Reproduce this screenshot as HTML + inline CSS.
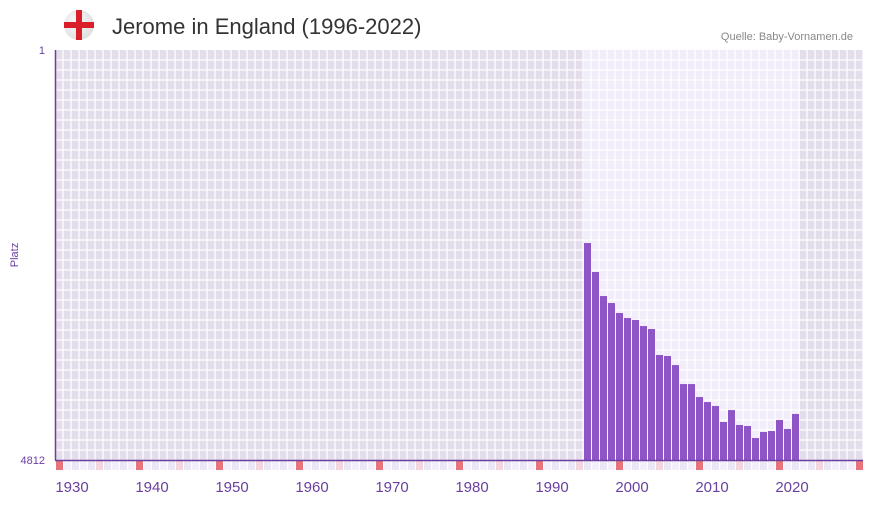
<!DOCTYPE html>
<html><head><meta charset="utf-8"><style>
body{margin:0;background:#fff;width:873px;height:502px;overflow:hidden;font-family:"Liberation Sans",sans-serif}
</style></head><body>
<svg id="c" width="873" height="502" xmlns="http://www.w3.org/2000/svg">
<defs><radialGradient id="fg" cx="0.4" cy="0.4" r="0.7"><stop offset="0" stop-color="#fafafa"/><stop offset="1" stop-color="#dcdcdc"/></radialGradient></defs>
<g>
<circle cx="79" cy="25" r="15" fill="url(#fg)"/>
<rect x="76" y="10" width="6" height="30" fill="#d9202a"/>
<rect x="64" y="22" width="30" height="6" fill="#d9202a"/>
</g>
<text x="112" y="34" font-size="22" fill="#333">Jerome in England (1996-2022)</text>
<text x="853" y="40" font-size="11" fill="#888" text-anchor="end">Quelle: Baby-Vornamen.de</text>
<text x="45" y="54" font-size="11" fill="#6a3fa0" text-anchor="end">1</text>
<text x="45" y="464" font-size="11" fill="#6a3fa0" text-anchor="end">4812</text>
<text x="18" y="255" font-size="11" fill="#6a3fa0" text-anchor="middle" transform="rotate(-90 18 255)">Platz</text>
<g id="bg"></g><g id="bars"></g><g id="axis"></g>
</svg>
<script>
const years=[1996,1997,1998,1999,2000,2001,2002,2003,2004,2005,2006,2007,2008,2009,2010,2011,2012,2013,2014,2015,2016,2017,2018,2019,2020,2021,2022];
const ranks=[2266,2606,2888,2970,3087,3146,3169,3240,3275,3580,3592,3698,3921,3921,4073,4132,4178,4366,4226,4401,4413,4554,4483,4472,4343,4448,4272];
const tickYears=[1930,1940,1950,1960,1970,1980,1990,2000,2010,2020];
const rankMin=1,rankMax=4812,yearStart=1930,yearEnd=2030;
const NS="http://www.w3.org/2000/svg";
const x=y=>56+(y-yearStart)*8;
const yS=r=>50+(r-rankMin)/(rankMax-rankMin)*410;
function mk(p,t,a){const e=document.createElementNS(NS,t);for(const k in a)e.setAttribute(k,a[k]);p.appendChild(e);return e;}
const bg=document.getElementById('bg'),bars=document.getElementById('bars'),ax=document.getElementById('axis');
const first=years[0],last=years[years.length-1];
let r=mk(bg,'rect',{x:55,y:50,width:808,height:410,fill:'#e3ddec'});

r=mk(bg,'rect',{x:x(first),y:50,width:(last-first+1)*8,height:410,fill:'#f1edfa'});

for(let yr=yearStart;yr<=yearEnd+1;yr++){mk(bg,'rect',{x:x(yr)-2,y:50,width:2,height:410,fill:'#fff','fill-opacity':0.6});}
for(let yy=60;yy<460;yy+=10){mk(bg,'rect',{x:55,y:yy-1,width:808,height:2,fill:'#fff','fill-opacity':0.6});}
for(let yr=yearStart;yr<=yearEnd;yr++){
  const c=yr%10===0?'#e8737b':(yr%10===5?'#f3d5de':(yr%2?'#f3effb':'#ebe6f6'));
  const m=mk(ax,'rect',{x:x(yr),y:461,width:7,height:9,fill:c});
  
  
}
years.forEach((yr,i)=>{
  const t=yS(ranks[i]);
  const b=mk(bars,'rect',{x:x(yr),y:t,width:7,height:460-t,fill:'#8e55c7'});
  
  
});
const l1=mk(ax,'line',{x1:55.5,y1:50,x2:55.5,y2:460,stroke:'#6a3fa0','stroke-width':1.5});

const l2=mk(ax,'line',{x1:55,y1:460.5,x2:863,y2:460.5,stroke:'#6a3fa0','stroke-width':1.5});

tickYears.forEach(yr=>{
  const t=mk(ax,'text',{x:x(yr)+16,y:492,'font-size':15,fill:'#6a3fa0','text-anchor':'middle'});
  t.textContent=yr;
  
  
});
</script>
</body></html>
